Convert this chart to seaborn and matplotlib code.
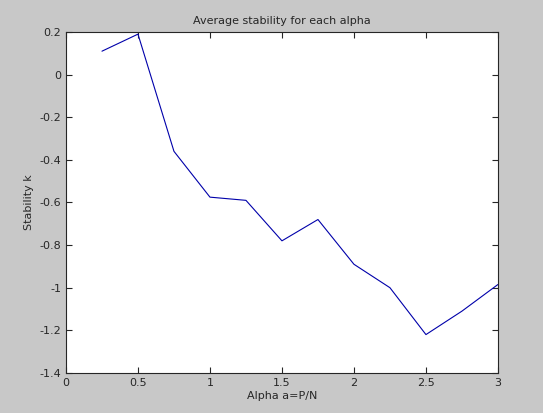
import matplotlib
matplotlib.use("Agg")
import matplotlib.pyplot as plt
import seaborn as sns
import pandas as pd

alpha = [0.25, 0.5, 0.75, 1.0, 1.25, 1.5, 1.75, 2.0, 2.25, 2.5, 2.75, 3.0]
stability = [0.11, 0.19, -0.36, -0.575, -0.59, -0.78, -0.68, -0.89, -1.0, -1.22, -1.11, -0.985]
df = pd.DataFrame({"alpha": alpha, "k": stability})

sns.set_style("ticks")
plt.rcParams['font.family'] = ['DejaVu Sans']
fig = plt.figure(figsize=(5.43, 4.13), dpi=100, facecolor="#c8c8c8")
ax = fig.add_axes([0.1215, 0.097, 0.7955, 0.8255])
sns.lineplot(data=df, x="alpha", y="k", ax=ax, color="#0000aa", linewidth=0.8)
ax.set_xlim(0, 3)
ax.set_ylim(-1.4, 0.2)
ax.set_xticks([0, 0.5, 1, 1.5, 2, 2.5, 3])
ax.set_xticklabels(["0", "0.5", "1", "1.5", "2", "2.5", "3"])
ax.set_yticks([-1.4, -1.2, -1, -0.8, -0.6, -0.4, -0.2, 0, 0.2])
ax.set_yticklabels(["-1.4", "-1.2", "-1", "-0.8", "-0.6", "-0.4", "-0.2", "0", "0.2"])
ax.tick_params(direction="in", labelsize=8, top=True, right=True, length=4)
for s in ax.spines.values():
    s.set_linewidth(0.8)
ax.set_xlabel("Alpha a=P/N", fontsize=8, labelpad=2)
ax.set_ylabel("Stability k", fontsize=8)
ax.set_title("Average stability for each alpha", fontsize=8)
fig.savefig("out.png", dpi=100, facecolor=fig.get_facecolor())
